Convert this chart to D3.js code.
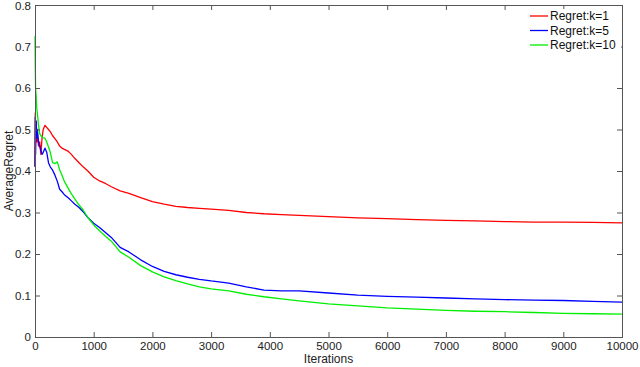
<!DOCTYPE html>
<html><head><meta charset="utf-8">
<script src="https://cdn.jsdelivr.net/npm/d3@7"></script>
<style>body{margin:0;background:#fff}svg{display:block}text{font-family:"Liberation Sans",Arial,sans-serif}</style>
</head><body>
<svg id="c" width="640" height="367"></svg>
<script>
const iterations=[0,5,10,20,30,40,60,80,100,120,140,170,200,230,260,300,340,380,420,460,500,560,620,680,750,820,900,1000,1100,1200,1300,1450,1600,1800,2000,2200,2400,2600,2800,3000,3300,3600,3900,4200,4500,5000,5500,6000,6500,7000,7500,8000,8500,9000,9500,10000];
const regretK1=[0.41,0.54,0.50,0.52,0.47,0.49,0.46,0.47,0.44,0.48,0.50,0.51,0.505,0.50,0.495,0.485,0.478,0.47,0.46,0.455,0.452,0.448,0.44,0.43,0.42,0.41,0.40,0.385,0.376,0.37,0.362,0.352,0.346,0.336,0.326,0.32,0.315,0.312,0.31,0.308,0.305,0.300,0.297,0.295,0.293,0.290,0.287,0.285,0.283,0.281,0.280,0.278,0.277,0.277,0.276,0.275];
const regretK5=[0.41,0.53,0.44,0.52,0.48,0.50,0.47,0.46,0.45,0.44,0.445,0.455,0.445,0.42,0.41,0.402,0.39,0.375,0.356,0.35,0.343,0.336,0.328,0.32,0.312,0.302,0.288,0.274,0.264,0.252,0.24,0.216,0.205,0.186,0.170,0.158,0.150,0.144,0.139,0.135,0.130,0.121,0.113,0.111,0.111,0.106,0.101,0.098,0.096,0.094,0.092,0.090,0.089,0.088,0.086,0.084];
const regretK10=[0.725,0.65,0.60,0.58,0.55,0.54,0.51,0.49,0.485,0.482,0.48,0.479,0.47,0.458,0.445,0.42,0.418,0.422,0.403,0.39,0.375,0.36,0.345,0.332,0.318,0.306,0.288,0.270,0.256,0.243,0.231,0.205,0.192,0.172,0.157,0.145,0.136,0.128,0.121,0.116,0.111,0.103,0.097,0.092,0.087,0.080,0.075,0.070,0.067,0.064,0.062,0.061,0.059,0.057,0.056,0.055];
const seriesNames=["Regret:k=1","Regret:k=5","Regret:k=10"];
const seriesColors=["#ff0000","#0000ff","#00ee00"];
const xTicks=[0,1000,2000,3000,4000,5000,6000,7000,8000,9000,10000];
const yTicks=[0,0.1,0.2,0.3,0.4,0.5,0.6,0.7,0.8];

const svg=d3.select("#c");
const L=35,R=622,T=5,B=337;
const x=d3.scaleLinear().domain([0,10000]).range([L,R]);
const y=d3.scaleLinear().domain([0,0.8]).range([B,T]);
const axisColor="#555";

const series=[regretK1,regretK5,regretK10];
const line=d3.line().x((d,i)=>x(iterations[i])).y(d=>y(d));
series.forEach((s,k)=>{
  svg.append("path").datum(s).attr("d",line).attr("fill","none")
    .attr("stroke",seriesColors[k]).attr("stroke-width",1.3).attr("stroke-linejoin","round");
});

function styleAxis(g){g.selectAll("path,line").attr("stroke",axisColor);g.selectAll("text").attr("fill","#222").style("font-size","11.5px").style("font-family","'Liberation Sans',Arial,sans-serif");}
svg.append("g").attr("transform",`translate(0,${B})`)
  .call(d3.axisBottom(x).tickValues(xTicks).tickSize(-5).tickPadding(5).tickFormat(d3.format("d")))
  .call(styleAxis);
const yAx=svg.append("g").attr("transform",`translate(${L},0)`)
  .call(d3.axisLeft(y).tickValues(yTicks).tickSize(-5).tickPadding(4).tickFormat(d=>d===0?"0":d3.format(".1f")(d)))
  .call(styleAxis);
yAx.selectAll(".tick text").filter(d=>d===0.8).attr("dy","0.42em");
svg.append("g").attr("transform",`translate(0,${T})`)
  .call(d3.axisTop(x).tickValues(xTicks).tickSize(-5).tickFormat(""))
  .call(styleAxis);
svg.append("g").attr("transform",`translate(${R},0)`)
  .call(d3.axisRight(y).tickValues(yTicks).tickSize(-5).tickFormat(""))
  .call(styleAxis);
svg.selectAll(".domain").attr("stroke",axisColor);

svg.append("text").attr("x",(L+R)/2).attr("y",363).attr("text-anchor","middle")
  .style("font-size","12px").attr("fill","#222").text("Iterations");
svg.append("text").attr("transform",`translate(13,${(T+B)/2}) rotate(-90)`).attr("text-anchor","middle")
  .style("font-size","12px").attr("fill","#222").text("AverageRegret");

const lg=svg.append("g");
lg.append("rect").attr("x",527).attr("y",9).attr("width",94).attr("height",44).attr("fill","#fff");
seriesNames.forEach((n,k)=>{
  const yy=16+k*14.5;
  lg.append("line").attr("x1",530).attr("x2",548).attr("y1",yy).attr("y2",yy).attr("stroke",seriesColors[k]).attr("stroke-width",1.3);
  lg.append("text").attr("x",550).attr("y",yy+4).style("font-size","12px").attr("fill","#111").text(n);
});
</script>
</body></html>
